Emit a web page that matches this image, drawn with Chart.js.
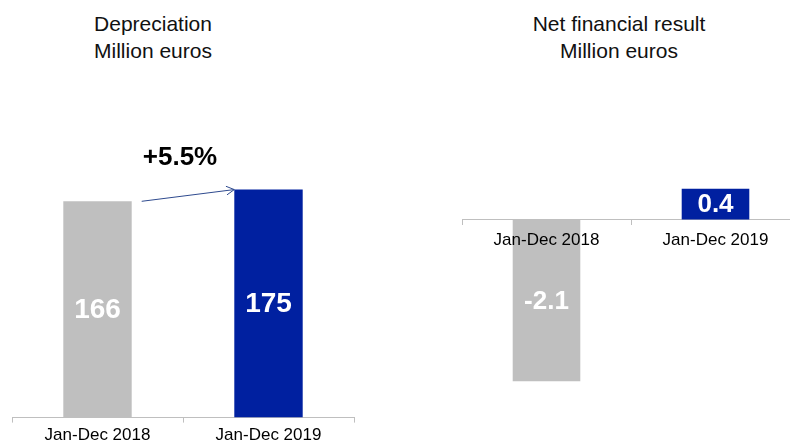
<!DOCTYPE html>
<html lang="en">
<head>
    <meta charset="UTF-8">
    <title>Depreciation and Net financial result</title>
    <script src="https://cdn.jsdelivr.net/npm/chart.js@4.4.0/dist/chart.umd.min.js"></script>
    <style>
        body {
            margin: 0;
            width: 790px;
            height: 443px;
            overflow: hidden;
            background: #fff;
            position: relative;
            font-family: "Liberation Sans", Arial, sans-serif;
        }
        .title {
            position: absolute;
            top: 11px;
            width: 260px;
            text-align: center;
            font-size: 21px;
            line-height: 26.6px;
            color: #111;
        }
    </style>
</head>
<body>
    <div class="title" style="left: 23px;">Depreciation<br>Million euros</div>
    <div class="title" style="left: 489px;">Net financial result<br>Million euros</div>
    <div style="position:absolute; left:2px; top:0; width:360px; height:449px;">
        <canvas id="depr"></canvas>
    </div>
    <div style="position:absolute; left:452px; top:0; width:350px; height:443px;">
        <canvas id="netfin"></canvas>
    </div>

    <script>
        // Data
        const periods = ["Jan-Dec 2018", "Jan-Dec 2019"];
        const depreciation = [166, 175];
        const netFinancial = [-2.1, 0.4];
        const deprLabels = ["166", "175"];
        const netLabels = ["-2.1", "0.4"];
        const deprChange = "+5.5%";

        const GRAY = '#BFBFBF';
        const BLUE = '#0020A0';
        const FONT = '"Liberation Sans", Arial, sans-serif';

        // white bold numbers in the middle of each bar
        function valueLabels(texts, size) {
            return {
                id: 'valueLabels',
                afterDatasetsDraw(chart) {
                    const ctx = chart.ctx;
                    const meta = chart.getDatasetMeta(0);
                    ctx.save();
                    ctx.fillStyle = '#fff';
                    ctx.font = 'bold ' + size + 'px ' + FONT;
                    ctx.textAlign = 'center';
                    ctx.textBaseline = 'middle';
                    meta.data.forEach((bar, i) => {
                        ctx.fillText(texts[i], bar.x, (bar.y + bar.base) / 2 + 1);
                    });
                    ctx.restore();
                }
            };
        }

        // "+5.5%" and the arrow between the two bars
        const changeArrow = {
            id: 'changeArrow',
            afterDatasetsDraw(chart) {
                const ctx = chart.ctx;
                const bars = chart.getDatasetMeta(0).data;
                const a = bars[0], b = bars[1];
                const x0 = a.x + a.width / 2 + 10, y0 = a.y;
                const x1 = b.x - b.width / 2, y1 = b.y;
                ctx.save();
                ctx.strokeStyle = '#2E4A8E';
                ctx.lineWidth = 1;
                ctx.beginPath();
                ctx.moveTo(x0, y0);
                ctx.lineTo(x1, y1);
                const ang = Math.atan2(y1 - y0, x1 - x0);
                ctx.moveTo(x1 - 9 * Math.cos(ang - 0.5), y1 - 9 * Math.sin(ang - 0.5));
                ctx.lineTo(x1, y1);
                ctx.lineTo(x1 - 9 * Math.cos(ang + 0.5), y1 - 9 * Math.sin(ang + 0.5));
                ctx.stroke();
                ctx.fillStyle = '#000';
                ctx.font = 'bold 26px ' + FONT;
                ctx.textAlign = 'center';
                ctx.textBaseline = 'middle';
                ctx.fillText(deprChange, (a.x + a.width / 2 + b.x - b.width / 2) / 2 - 3, b.y - 32);
                ctx.restore();
            }
        };

        function xAxis(extra, pad) {
            return Object.assign({
                grid: {
                    display: true,
                    drawOnChartArea: false,
                    drawTicks: true,
                    tickLength: 5,
                    color: GRAY,
                    offset: true
                },
                border: { display: true, color: GRAY, width: 1 },
                ticks: {
                    color: '#000',
                    padding: pad,
                    z: 1,
                    font: { family: FONT, size: 17 }
                }
            }, extra);
        }

        new Chart(document.getElementById('depr'), {
            type: 'bar',
            data: {
                labels: periods,
                datasets: [{
                    data: depreciation,
                    backgroundColor: [GRAY, BLUE],
                    borderWidth: 0,
                    categoryPercentage: 0.8,
                    barPercentage: 0.5
                }]
            },
            options: {
                responsive: true,
                maintainAspectRatio: false,
                animation: false,
                layout: { padding: { left: 10, right: 8, top: 157, bottom: 0 } },
                plugins: { legend: { display: false }, tooltip: { enabled: false } },
                scales: {
                    x: xAxis({}, 3),
                    y: { display: false, min: 0, max: 200 }
                }
            },
            plugins: [valueLabels(deprLabels, 28), changeArrow]
        });

        new Chart(document.getElementById('netfin'), {
            type: 'bar',
            data: {
                labels: periods,
                datasets: [{
                    data: netFinancial,
                    backgroundColor: [GRAY, BLUE],
                    borderWidth: 0,
                    categoryPercentage: 0.8,
                    barPercentage: 0.5
                }]
            },
            options: {
                responsive: true,
                maintainAspectRatio: false,
                animation: false,
                layout: { padding: { left: 10, right: 2, top: 181, bottom: 54 } },
                plugins: { legend: { display: false }, tooltip: { enabled: false } },
                scales: {
                    x: xAxis({ position: { y: 0 } }, 6),
                    y: { display: false, min: -2.2, max: 0.5 }
                }
            },
            plugins: [valueLabels(netLabels, 26)]
        });
    </script>
</body>
</html>
